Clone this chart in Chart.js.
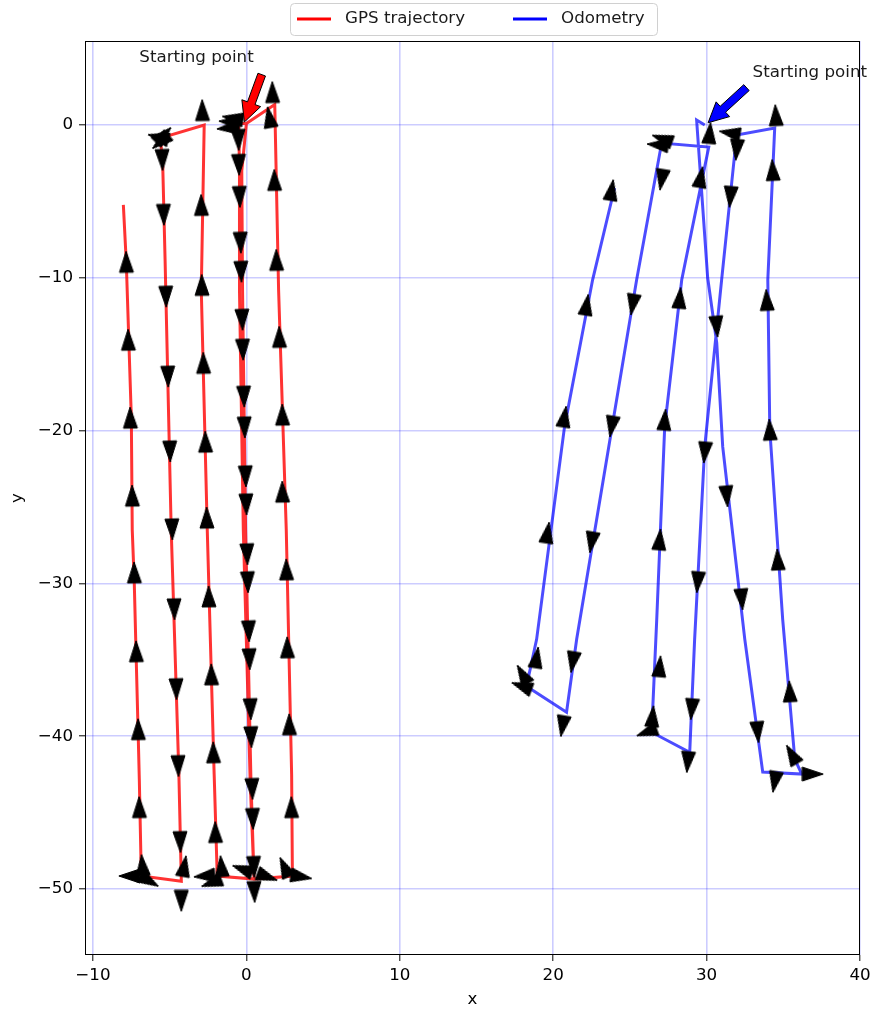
<!DOCTYPE html>
<html>
<head>
<meta charset="utf-8">
<script src="https://cdn.jsdelivr.net/npm/chart.js@4.4.1/dist/chart.umd.min.js"></script>
<style>
  html, body { margin: 0; padding: 0; background: #fff; }
</style>
</head>
<body>
<canvas id="trajChart" width="879" height="1010"></canvas>
<script>
// axis ticks
const xTicks = [-10, 0, 10, 20, 30, 40];
const yTicks = [-50, -40, -30, -20, -10, 0];

// GPS trajectory (m)
const gpsX = [0, -0.3, -0.25, -0.05, 0.3, 0.5, 3.0, 2.95, 2.6, 2.1, 1.85, 0, -0.5, -0.45, -0.45, -0.2, 0.25, 0.5, -1.9, -2.1, -2.55, -2.94, -2.75, -5.6, -5.45, -5.3, -4.9, -4.4, -4.24, -6.85, -6.98, -7.05, -7.18, -7.31, -7.44, -7.5, -7.83, -8.02];
const gpsY = [0.1, -3, -10.8, -26.5, -43, -49.35, -49.15, -42.5, -26.5, -10.8, 1.35, 0.1, 0.1, -3, -10.8, -26.5, -43, -49.35, -49.15, -42.5, -26.5, -10.8, 0, -0.85, -2.75, -8.8, -26.5, -42.5, -49.5, -49.15, -42.8, -40, -35, -29.9, -26.5, -19.15, -8.95, -5.23];

// odometry trajectory (m)
const odomX = [29.88, 29.35, 30.07, 30.66, 31.05, 32.49, 33.66, 36.2, 35.75, 34.96, 34.12, 33.99, 34.44, 31.96, 30.98, 29.88, 29.22, 28.9, 26.42, 26.75, 27.27, 28.38, 30.14, 27.07, 25.44, 21.53, 20.87, 18.26, 18.92, 20.74, 22.57, 24.0];
const odomY = [0.0, 0.33, -10.0, -14.25, -21.05, -33.66, -42.35, -42.48, -41.5, -32.35, -19.93, -10.13, -0.2, -0.65, -10.13, -21.05, -33.66, -41.05, -39.74, -32.35, -19.74, -10.13, -1.44, -1.18, -10.13, -33.66, -38.43, -36.73, -33.66, -19.74, -10.13, -4.12];

// heading arrows: position (m) and heading (deg, 0 = +x, 90 = +y)
const gpsArrowX = [
  -7.83, -7.70, -7.57, -7.44, -7.31, -7.18, -7.05, -6.98, -7.63, -6.78, -6.33,
  -5.48, -5.39, -5.24, -5.11, -4.98, -4.84, -4.70, -4.57, -4.44, -4.31, -4.24, -4.05, -5.75, -5.4, -5.6,
  -2.87, -2.94, -2.90, -2.80, -2.67, -2.58, -2.45, -2.28, -2.15, -2.02, -2.74, -1.63, -2.28,
  -0.52, -0.49, -0.44, -0.38, -0.34, -0.27, -0.23, -0.16, -0.12, -0.05, -0.01, 0.05, 0.09, 0.16, 0.2, 0.27, 0.31, 0.38, 0.42, 0.49, 0.52,
  -1.11, -1.24, -0.9, -0.26, 1.37,
  1.70, 1.83, 1.96, 2.15, 2.35, 2.35, 2.61, 2.67, 2.80, 2.94, 1.50, 2.48, 3.59
];
const gpsArrowY = [
  -8.95, -14.05, -19.15, -24.25, -29.28, -34.44, -39.54, -44.64, -49.15, -48.43, -49.48,
  -2.29, -5.88, -11.24, -16.47, -21.37, -26.47, -31.7, -36.93, -41.96, -46.93, -50.78, -48.5, -0.8, -0.65, -1.1,
  0.98, -5.23, -10.46, -15.56, -20.72, -25.69, -30.85, -35.95, -41.05, -46.27, -49.15, -48.5, -49.6,
  -0.98, -2.61, -4.71, -7.71, -9.61, -12.75, -14.71, -17.78, -19.8, -23.0, -24.84, -28.1, -29.93, -33.14, -34.97, -38.24, -40.07, -43.46, -45.42, -48.56, -50.2,
  0.2, -0.2, 0.45, -48.7, -49.2,
  2.16, -3.59, -8.82, -13.86, -18.95, -23.99, -29.08, -34.18, -39.22, -44.64, 0.52, -48.56, -49.2
];
const gpsArrowDir = [
  91, 91, 91, 91, 91, 91, 91, 91, 180, 95, 330,
  271.5, 271.5, 271.5, 271.5, 271.5, 271.5, 271.5, 271.5, 271.5, 271.5, 270, 80, 165, 45, 220,
  91, 91, 91, 91, 91, 91, 91, 91, 91, 91, 185, 95, 200,
  272, 272, 272, 272, 272, 272, 272, 272, 272, 272, 272, 272, 272, 272, 272, 272, 272, 272, 272, 272, 272,
  175, 185, 170, 160, 340,
  91, 91, 91, 91, 91, 91, 91, 91, 91, 91, 100, 115, 350
];

const odomArrowX = [
  23.81, 22.18, 20.74, 19.63, 18.92, 18.0, 17.94,
  26.8, 27.1, 27.07, 25.18, 23.81, 22.5, 21.27, 20.61,
  30.2, 29.62, 28.25, 27.27, 26.94, 26.94, 26.48, 26.09,
  30.66, 31.31, 32.29, 33.33, 34.44,
  31.5, 31.96, 31.55, 29.88, 29.42, 29.03, 28.77,
  34.51, 34.31, 33.92, 34.12, 34.64, 35.42, 35.55, 36.92
];
const odomArrowY = [
  -4.25, -11.76, -19.08, -26.67, -34.84, -35.95, -36.73,
  -1.3, -0.9, -3.59, -11.76, -19.74, -27.32, -35.16, -39.35,
  -0.52, -3.4, -11.31, -19.28, -27.12, -35.42, -38.69, -39.74,
  -13.2, -24.31, -31.05, -39.74, -43.0,
  -0.52, -1.63, -4.71, -21.44, -29.93, -38.24, -41.7,
  0.65, -2.94, -11.44, -19.93, -28.43, -37.06, -41.18, -42.48
];
const odomArrowDir = [
  81, 81, 81, 81, 81, 120, 160,
  175, 160, 260.5, 260.5, 260.5, 260.5, 260.5, 260.5,
  85, 80, 85, 85, 85, 85, 85, 200,
  275, 275, 275, 275, 260,
  170, 265, 265, 265, 265, 265, 265,
  93, 93, 93, 93, 93, 93, 120, 0
];

// "Starting point" notes, in data coordinates
const startNotes = [
  { text: 'Starting point', tx: -6.98, ty: 4.44, fromX: 1.0, fromY: 3.3, toX: -0.13, toY: 0.2, color: 'red' },
  { text: 'Starting point', tx: 33.0, ty: 3.4, fromX: 32.6, fromY: 2.45, toX: 30.1, toY: 0.15, color: 'blue' }
];

const FONT = 'DejaVu Sans';
const FONT_SIZE = 16.7;
Chart.defaults.font.family = FONT;
Chart.defaults.font.size = FONT_SIZE;
Chart.defaults.color = '#000';

// quiver-like arrow head, points up before rotation
function makeArrowHead() {
  const c = document.createElement('canvas');
  c.width = 16;
  c.height = 23;
  const g = c.getContext('2d');
  g.beginPath();
  g.moveTo(8, 1);
  g.lineTo(15, 22);
  g.lineTo(1, 22);
  g.closePath();
  g.fillStyle = '#000';
  g.fill();
  g.strokeStyle = '#000';
  g.lineWidth = 1;
  g.stroke();
  return c;
}
const arrowHead = makeArrowHead();

function toPoints(xs, ys) {
  return xs.map((x, i) => ({ x: x, y: ys[i] }));
}

function arrowDataset(xs, ys, dirs) {
  return {
    label: 'heading',
    data: toPoints(xs, ys),
    showLine: false,
    pointStyle: arrowHead,
    pointRadius: 8,
    pointRotation: dirs.map(d => 90 - d),
    order: 0
  };
}

function fmtTick(v) {
  return String(v).replace('-', '\u2212');
}

function drawFatArrow(ctx, x0, y0, x1, y1, fill) {
  const dx = x1 - x0, dy = y1 - y0;
  const len = Math.hypot(dx, dy);
  const ux = dx / len, uy = dy / len;
  const px = -uy, py = ux;
  const headLen = 20, headW = 10, shaftW = 4;
  const bx = x1 - ux * headLen, by = y1 - uy * headLen;
  ctx.beginPath();
  ctx.moveTo(x0 + px * shaftW, y0 + py * shaftW);
  ctx.lineTo(bx + px * shaftW, by + py * shaftW);
  ctx.lineTo(bx + px * headW, by + py * headW);
  ctx.lineTo(x1, y1);
  ctx.lineTo(bx - px * headW, by - py * headW);
  ctx.lineTo(bx - px * shaftW, by - py * shaftW);
  ctx.lineTo(x0 - px * shaftW, y0 - py * shaftW);
  ctx.closePath();
  ctx.fillStyle = fill;
  ctx.fill();
  ctx.strokeStyle = '#000';
  ctx.lineWidth = 1;
  ctx.stroke();
}

const decorations = {
  id: 'decorations',
  afterDatasetsDraw(chart) {
    const { ctx, chartArea: a, scales: { x, y } } = chart;
    ctx.save();
    // frame
    ctx.strokeStyle = '#000';
    ctx.lineWidth = 1;
    ctx.strokeRect(a.left + 0.5, a.top + 0.5, a.right - a.left - 1, a.bottom - a.top - 1);
    // starting point notes
    startNotes.forEach(n => {
      drawFatArrow(ctx, x.getPixelForValue(n.fromX), y.getPixelForValue(n.fromY),
        x.getPixelForValue(n.toX), y.getPixelForValue(n.toY), n.color);
      ctx.fillStyle = '#1a1a1a';
      ctx.font = FONT_SIZE + 'px ' + FONT;
      ctx.textAlign = 'left';
      ctx.textBaseline = 'middle';
      ctx.fillText(n.text, x.getPixelForValue(n.tx), y.getPixelForValue(n.ty));
    });
    ctx.restore();
  },
  afterDraw(chart) {
    const ctx = chart.ctx;
    ctx.save();
    // legend box
    ctx.beginPath();
    ctx.roundRect(290.5, 3.5, 367, 32, 4);
    ctx.fillStyle = 'rgba(255,255,255,0.8)';
    ctx.fill();
    ctx.strokeStyle = '#d0d0d0';
    ctx.lineWidth = 1;
    ctx.stroke();
    const items = [
      { text: 'GPS trajectory', color: 'red', x: 297 },
      { text: 'Odometry', color: 'blue', x: 513 }
    ];
    items.forEach(it => {
      ctx.beginPath();
      ctx.moveTo(it.x, 19);
      ctx.lineTo(it.x + 34, 19);
      ctx.strokeStyle = it.color;
      ctx.lineWidth = 3;
      ctx.stroke();
      ctx.fillStyle = '#1a1a1a';
      ctx.font = FONT_SIZE + 'px ' + FONT;
      ctx.textAlign = 'left';
      ctx.textBaseline = 'middle';
      ctx.fillText(it.text, it.x + 48, 19);
    });
    ctx.restore();
  }
};

const gridOpts = {
  color: 'rgba(0,0,255,0.2)',
  lineWidth: 1.6,
  tickColor: '#000',
  tickLength: 6,
  tickWidth: 1
};

new Chart(document.getElementById('trajChart').getContext('2d'), {
  type: 'scatter',
  data: {
    datasets: [
      arrowDataset(gpsArrowX, gpsArrowY, gpsArrowDir),
      arrowDataset(odomArrowX, odomArrowY, odomArrowDir),
      {
        label: 'GPS trajectory',
        data: toPoints(gpsX, gpsY),
        showLine: true,
        borderColor: 'rgba(255,0,0,0.8)',
        borderWidth: 3,
        pointRadius: 0,
        order: 1
      },
      {
        label: 'Odometry',
        data: toPoints(odomX, odomY),
        showLine: true,
        borderColor: 'rgba(0,0,255,0.7)',
        borderWidth: 3,
        pointRadius: 0,
        order: 1
      }
    ]
  },
  options: {
    responsive: false,
    devicePixelRatio: 1,
    animation: false,
    layout: { padding: { top: 41, right: 19, left: 0, bottom: 0 } },
    plugins: {
      legend: { display: false },
      tooltip: { enabled: false }
    },
    scales: {
      x: {
        type: 'linear',
        min: -10.52,
        max: 40.0,
        afterBuildTicks: s => { s.ticks = xTicks.map(v => ({ value: v })); },
        afterFit: s => { s.height = 55; },
        ticks: { callback: fmtTick, padding: 5, maxRotation: 0 },
        grid: gridOpts,
        border: { display: false },
        title: { display: true, text: 'x', padding: { top: 0, bottom: 0 } }
      },
      y: {
        type: 'linear',
        min: -54.32,
        max: 5.5,
        afterBuildTicks: s => { s.ticks = yTicks.map(v => ({ value: v })); },
        afterFit: s => { s.width = 85; },
        ticks: { callback: fmtTick, padding: 6 },
        grid: gridOpts,
        border: { display: false },
        title: { display: true, text: 'y', padding: { top: 8, bottom: 0 } }
      }
    }
  },
  plugins: [decorations]
});
</script>
</body>
</html>
